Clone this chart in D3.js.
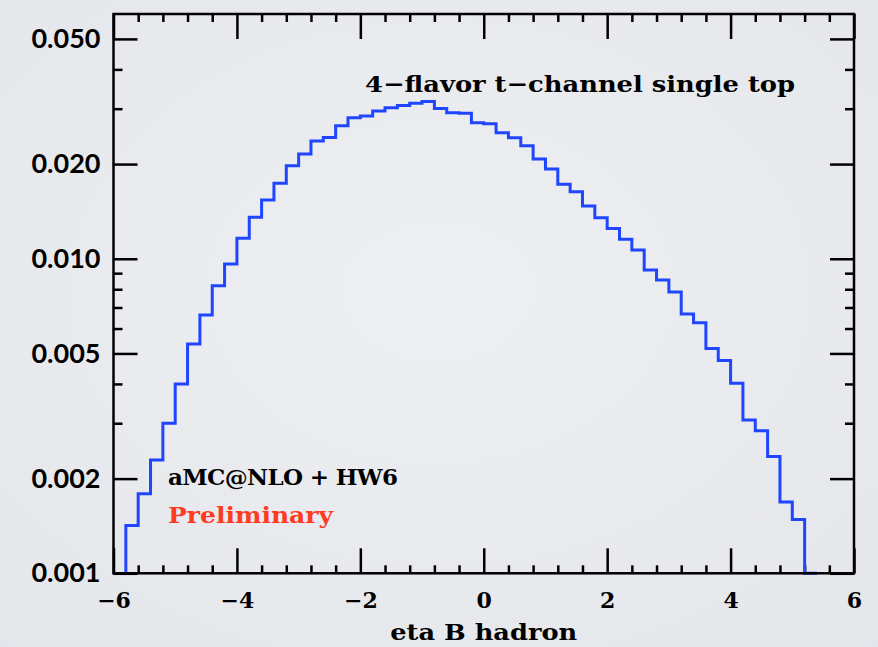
<!DOCTYPE html>
<html>
<head>
<meta charset="utf-8">
<script src="https://cdn.jsdelivr.net/npm/d3@7"></script>
<style>
  html, body { margin: 0; padding: 0; background: #ebecf0; }
  svg { display: block; }
</style>
</head>
<body>
<svg id="chart" width="878" height="647"></svg>
<script>
// ---- data ----
const binLow = [-5.8,-5.6,-5.4,-5.2,-5.0,-4.8,-4.6,-4.4,-4.2,-4.0,-3.8,-3.6,-3.4,-3.2,-3.0,
  -2.8,-2.6,-2.4,-2.2,-2.0,-1.8,-1.6,-1.4,-1.2,-1.0,-0.8,-0.6,-0.4,-0.2,
  0.0,0.2,0.4,0.6,0.8,1.0,1.2,1.4,1.6,1.8,2.0,2.2,2.4,2.6,2.8,3.0,3.2,3.4,3.6,3.8,
  4.0,4.2,4.4,4.6,4.8,5.0,5.2];
const binWidth = 0.2;
const binValue = [0.00142,0.00179,0.00229,0.00300,0.00400,0.00536,0.00662,0.00821,0.00962,0.01161,
  0.01354,0.01537,0.01737,0.01975,0.02152,0.02366,0.02430,0.02647,0.02807,0.02842,
  0.02948,0.03020,0.03073,0.03119,0.03164,0.03006,0.02911,0.02899,0.02706,
  0.02686,0.02515,0.02425,0.02287,0.02074,0.01928,0.01724,0.01633,0.01471,0.01350,
  0.01249,0.01153,0.01066,0.00921,0.00856,0.00784,0.00667,0.00626,0.00518,0.00475,
  0.00402,0.00307,0.00284,0.00235,0.001685,0.001484,0.00100];
const xMajorTicks = [-6,-4,-2,0,2,4,6];
const xMinorTicks = [-5.6,-5.2,-4.8,-4.4,-3.6,-3.2,-2.8,-2.4,-1.6,-1.2,-0.8,-0.4,
  0.4,0.8,1.2,1.6,2.4,2.8,3.2,3.6,4.4,4.8,5.2,5.6];
const yMajorTicks = [0.001,0.002,0.005,0.01,0.02,0.05];
const yMinorTicks = [0.003,0.004,0.006,0.007,0.008,0.009,0.03,0.04];
const xTitle = "eta B hadron";
const title = "4\u2212flavor t\u2212channel single top";
const genLabel = "aMC@NLO + HW6";
const prelimLabel = "Preliminary";

// ---- layout ----
const L = 113.5, R = 854, T = 14, B = 573.3;
const svg = d3.select("#chart");
const defs = svg.append("defs");
const grad = defs.append("radialGradient").attr("id","bg").attr("cx","50%").attr("cy","45%").attr("r","75%");
grad.append("stop").attr("offset","0%").attr("stop-color","#eeeff2");
grad.append("stop").attr("offset","100%").attr("stop-color","#e5e6eb");
svg.append("rect").attr("width",878).attr("height",647).attr("fill","url(#bg)");

const x = d3.scaleLinear().domain([-6,6]).range([L,R]);
const y = d3.scaleLog().domain([0.001,0.06]).range([B,T]);

const serifFont = "'DejaVu Serif', 'Liberation Serif', serif";
const sansFont = "Lato, 'DejaVu Sans', sans-serif";

function styleAxis(g) {
  g.select(".domain").remove();
  g.selectAll(".tick line").attr("stroke","#000").attr("stroke-width",2.5);
}

// bottom
svg.append("g").attr("transform",`translate(0,${B})`)
  .call(d3.axisBottom(x).tickValues(xMajorTicks).tickSize(-25).tickPadding(19)
    .tickFormat(d3.format("d")))
  .call(styleAxis)
  .call(g => g.selectAll("text").attr("font-family",serifFont).attr("font-weight","bold")
      .attr("font-size",22).attr("fill","#000"));
svg.append("g").attr("transform",`translate(0,${B})`)
  .call(d3.axisBottom(x).tickValues(xMinorTicks).tickSize(-8).tickFormat(""))
  .call(styleAxis);
// top
svg.append("g").attr("transform",`translate(0,${T})`)
  .call(d3.axisTop(x).tickValues(xMajorTicks).tickSize(-25).tickFormat(""))
  .call(styleAxis);
svg.append("g").attr("transform",`translate(0,${T})`)
  .call(d3.axisTop(x).tickValues(xMinorTicks).tickSize(-8).tickFormat(""))
  .call(styleAxis);
// left
svg.append("g").attr("transform",`translate(${L},0)`)
  .call(d3.axisLeft(y).tickValues(yMajorTicks).tickSize(-24).tickPadding(13)
    .tickFormat(d3.format(".3f")))
  .call(styleAxis)
  .call(g => g.selectAll("text").attr("font-family",sansFont).attr("font-weight","bold")
      .attr("font-size",27).attr("fill","#000"));
svg.append("g").attr("transform",`translate(${L},0)`)
  .call(d3.axisLeft(y).tickValues(yMinorTicks).tickSize(-9).tickFormat(""))
  .call(styleAxis);
// right
svg.append("g").attr("transform",`translate(${R},0)`)
  .call(d3.axisRight(y).tickValues(yMajorTicks).tickSize(-24).tickFormat(""))
  .call(styleAxis);
svg.append("g").attr("transform",`translate(${R},0)`)
  .call(d3.axisRight(y).tickValues(yMinorTicks).tickSize(-9).tickFormat(""))
  .call(styleAxis);

// histogram
const yc = v => y(Math.max(v, 0.001));
const pts = [[x(binLow[0]), B]];
binLow.forEach((lo, i) => {
  pts.push([x(lo), yc(binValue[i])]);
  pts.push([x(lo + binWidth), yc(binValue[i])]);
});
svg.append("path").attr("d", d3.line()(pts))
  .attr("fill","none").attr("stroke","#1f45ff").attr("stroke-width",3)
  .attr("stroke-linejoin","miter");

// frame
svg.append("rect").attr("x",L).attr("y",T).attr("width",R-L).attr("height",B-T)
  .attr("fill","none").attr("stroke","#000").attr("stroke-width",2.5);

// texts
svg.append("text").attr("x",(L+R)/2).attr("y",640).attr("text-anchor","middle")
  .attr("font-family",serifFont).attr("font-weight","bold").attr("font-size",23)
  .attr("textLength",187).attr("lengthAdjust","spacingAndGlyphs").text(xTitle);
svg.append("text").attr("x",365).attr("y",91.5)
  .attr("font-family",serifFont).attr("font-weight","bold").attr("font-size",23)
  .attr("textLength",430).attr("lengthAdjust","spacingAndGlyphs").text(title);
svg.append("text").attr("x",168).attr("y",485)
  .attr("font-family",serifFont).attr("font-weight","bold").attr("font-size",23)
  .attr("textLength",230).attr("lengthAdjust","spacing").text(genLabel);
svg.append("text").attr("x",168).attr("y",523).attr("fill","#ff3b1f")
  .attr("font-family",serifFont).attr("font-weight","bold").attr("font-size",23)
  .attr("textLength",165).attr("lengthAdjust","spacingAndGlyphs").text(prelimLabel);
</script>
</body>
</html>
